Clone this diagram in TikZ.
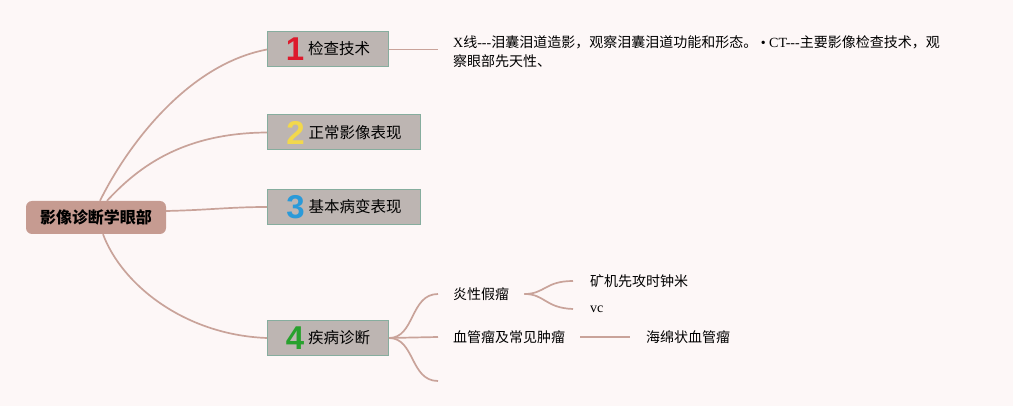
\documentclass[tikz,border=0pt]{standalone}
\usepackage{fontspec}
\setmainfont{Liberation Serif}
\newfontfamily\cjk{Noto Sans CJK SC}
\newfontfamily\digf{Liberation Sans}
\definecolor{bgc}{HTML}{FDF7F7}
\definecolor{linec}{HTML}{C9A39A}
\definecolor{boxf}{HTML}{BDB5B2}
\definecolor{boxd}{HTML}{86AD9E}
\definecolor{rootf}{HTML}{C69B91}
\definecolor{dred}{HTML}{DD1A2C}
\definecolor{dyel}{HTML}{F2D84C}
\definecolor{dblu}{HTML}{2A9AD9}
\definecolor{dgrn}{HTML}{28A12E}
\newcommand{\dig}[2]{\raisebox{-6pt}{\digf\bfseries\fontsize{33}{33}\selectfont\color{#1}#2}\hspace{4pt}}
\begin{document}
\begin{tikzpicture}[x=1pt,y=-1pt,
  conn/.style={draw=linec, line width=1.7pt},
  topic/.style={draw=boxd, fill=boxf, line width=1pt, minimum height=35pt, anchor=west,
     inner xsep=0pt, inner ysep=0pt, font=\cjk\fontsize{15.5}{16}\selectfont},
  rootbox/.style={fill=rootf, rounded corners=6pt, minimum width=140pt, minimum height=33pt,
     inner sep=0pt, font=\cjk\bfseries\fontsize{16}{17}\selectfont},
  leaf/.style={anchor=west, inner sep=0pt, font=\cjk\fontsize{14}{15}\selectfont}
]
\fill[bgc] (0,0) rectangle (1013,406);
\useasboundingbox (0,0) rectangle (1013,406);

\node[rootbox] (root) at (96,217.5) {影像诊断学眼部};

\node[topic, minimum width=121pt] (t1) at (267,49.5) {\dig{dred}{1}检查技术};
\node[topic, minimum width=153pt] (t2) at (267,132.5) {\dig{dyel}{2}正常影像表现};
\node[topic, minimum width=153pt] (t3) at (267,207) {\dig{dblu}{3}基本病变表现};
\node[topic, minimum width=121pt] (t4) at (267,338) {\dig{dgrn}{4}疾病诊断};

\draw[conn] ([xshift=4pt]root.north) .. controls (125,150) and (185,65) .. (t1.west);
\draw[conn] ([xshift=11pt]root.north) .. controls (140,165) and (185,133) .. (t2.west);
\draw[conn] ([yshift=6.5pt]root.east) .. controls (210,210) and (230,207) .. (t3.west);
\draw[conn] ([xshift=7pt]root.south) .. controls (122,285) and (185,335) .. (t4.west);

% topic 1 detail
\coordinate (e0) at (438,49.5);
\node[anchor=north west, inner sep=0pt, align=left, font=\fontsize{14}{19.5}\selectfont] (n1) at (453,35)
  {X{\cjk 线}-{}-{}-{\cjk 泪囊泪道造影，观察泪囊泪道功能和形态。} • CT-{}-{}-{\cjk 主要影像检查技术，观}\\
   {\cjk 察眼部先天性、}};
\draw[conn] (t1.east) -- (e0);

% topic 4 details
\node[leaf] (a1) at (453,294) {炎性假瘤};
\node[leaf] (a2) at (453,337) {血管瘤及常见肿瘤};
\coordinate (e3) at (438,381);
\node[leaf] (b1) at (590,281) {矿机先攻时钟米};
\node[leaf, font=\fontsize{14}{15}\selectfont] (b2) at (590,309) {vc};
\node[leaf] (c1) at (646,337) {海绵状血管瘤};

\draw[conn] (t4.east) .. controls (415,338) and (410,294) .. ([xshift=-15pt]a1.west);
\draw[conn] (t4.east) -- ([xshift=-15pt]a2.west);
\draw[conn] (t4.east) .. controls (415,338) and (410,381) .. (e3);

\draw[conn] ([xshift=15pt]a1.east) .. controls (545,294) and (545,281) .. ([xshift=-17pt]b1.west);
\draw[conn] ([xshift=15pt]a1.east) .. controls (545,294) and (545,308) .. ([xshift=-17pt]b2.west);
\draw[conn] ([xshift=15pt]a2.east) -- ([xshift=-16pt]c1.west);
\end{tikzpicture}
\end{document}
